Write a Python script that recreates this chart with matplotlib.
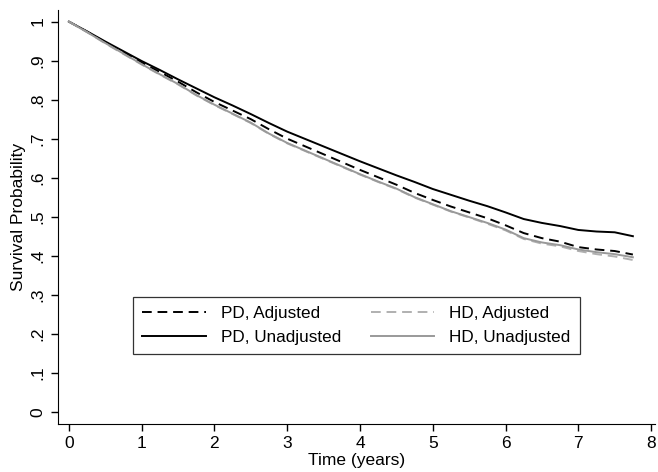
import numpy as np
import matplotlib.pyplot as plt

plt.rcParams['font.family'] = ['Liberation Sans', 'DejaVu Sans']

# survival estimates
years = [0, 0.25, 0.5, 0.75, 1, 1.25, 1.5, 1.75, 2, 2.25, 2.5, 2.75, 3, 3.25,
         3.5, 3.75, 4, 4.25, 4.5, 4.75, 5, 5.25, 5.5, 5.75, 6, 6.25, 6.5,
         6.75, 7, 7.25, 7.5, 7.75]
pd_adj = [1.0, 0.974, 0.947, 0.921, 0.895, 0.871, 0.846, 0.819, 0.794, 0.772,
          0.750, 0.724, 0.700, 0.680, 0.660, 0.640, 0.620, 0.601, 0.582, 0.561,
          0.543, 0.526, 0.511, 0.496, 0.478, 0.458, 0.445, 0.436, 0.422, 0.416,
          0.412, 0.403]
pd_unadj = [1.0, 0.975, 0.949, 0.924, 0.899, 0.876, 0.852, 0.829, 0.806, 0.785,
            0.763, 0.740, 0.718, 0.699, 0.680, 0.661, 0.642, 0.624, 0.606, 0.589,
            0.571, 0.556, 0.541, 0.527, 0.511, 0.494, 0.484, 0.476, 0.466, 0.462,
            0.460, 0.450]
hd_adj = [1.0, 0.973, 0.944, 0.917, 0.890, 0.864, 0.839, 0.811, 0.786, 0.763,
          0.740, 0.712, 0.688, 0.668, 0.648, 0.628, 0.608, 0.589, 0.571, 0.549,
          0.531, 0.513, 0.498, 0.482, 0.465, 0.443, 0.431, 0.424, 0.412, 0.404,
          0.398, 0.389]
hd_unadj = [1.0, 0.973, 0.945, 0.918, 0.891, 0.865, 0.840, 0.812, 0.787, 0.764,
            0.741, 0.713, 0.689, 0.669, 0.649, 0.629, 0.609, 0.590, 0.572, 0.550,
            0.532, 0.514, 0.499, 0.484, 0.467, 0.445, 0.434, 0.427, 0.416, 0.409,
            0.404, 0.396]

xticks = list(range(0, 9))
yticks = [0, 0.1, 0.2, 0.3, 0.4, 0.5, 0.6, 0.7, 0.8, 0.9, 1.0]
ylabels = ['0', '.1', '.2', '.3', '.4', '.5', '.6', '.7', '.8', '.9', '1']

fig = plt.figure(figsize=(6.58, 4.72), dpi=100)
ax = fig.add_axes([0.088, 0.102, 0.907, 0.877])

dash = (5, 3)
ax.plot(years, pd_adj, color='black', lw=1.4, dashes=dash, label='PD, Adjusted')
ax.plot(years, pd_unadj, color='black', lw=1.4, label='PD, Unadjusted')
ax.plot(years, hd_adj, color='#b0b0b0', lw=1.4, dashes=dash, label='HD, Adjusted')
ax.plot(years, hd_unadj, color='#999999', lw=1.4, label='HD, Unadjusted')

ax.set_xlim(-0.151, 8.05)
ax.set_ylim(-0.031, 1.03)
ax.set_xticks(xticks)
ax.set_yticks(yticks)
ax.set_yticklabels(ylabels, rotation=90, va='center')
ax.tick_params(direction='out', length=5, width=1, labelsize=12.5, pad=4)
for s in ['top', 'right']:
    ax.spines[s].set_visible(False)
ax.set_xlabel('Time (years)', fontsize=12.5, labelpad=1)
ax.set_ylabel('Survival Probability', fontsize=12.5, labelpad=3)

leg = ax.legend(ncol=2, loc='upper left',
                bbox_to_anchor=(0.126, 0.307, 0.749, 0.0),
                mode='expand', fontsize=12.3, handlelength=3.7, frameon=True,
                fancybox=False, borderaxespad=0, labelspacing=0.5,
                handletextpad=0.9, borderpad=0.55)
leg.get_frame().set_edgecolor('black')
leg.get_frame().set_linewidth(0.9)

fig.savefig('out.png', dpi=100)
